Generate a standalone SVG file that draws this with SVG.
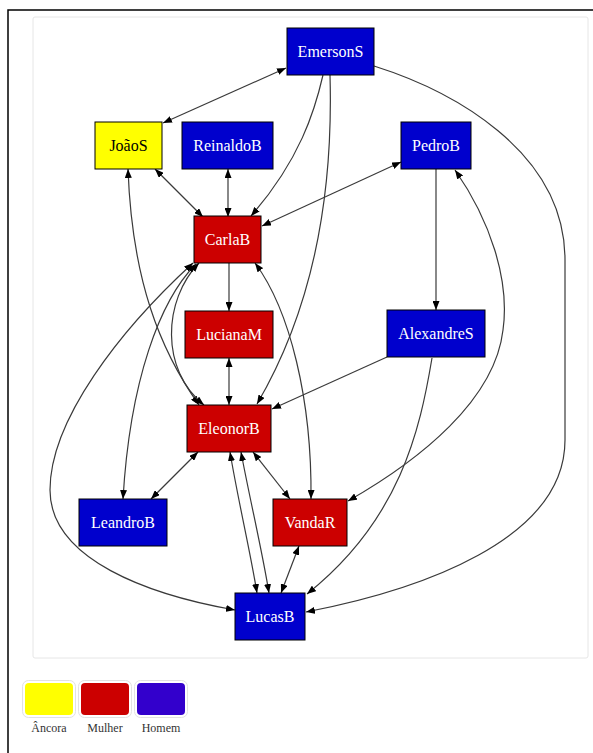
<svg xmlns="http://www.w3.org/2000/svg" width="593" height="753" viewBox="0 0 593 753">
  <style>
    .node rect { stroke: #000; stroke-width: 1; }
    .blue rect { fill: #0000CD; }
    .red rect { fill: #CC0000; }
    .yellow rect { fill: #FFFF00; }
    .node text { font-family: "Liberation Serif", "Times New Roman", serif; font-size: 16px; text-anchor: middle; fill: #fff; }
    .yellow text { fill: #000; }
    #edges path { fill: none; stroke: #3a3a3a; stroke-width: 1.2; }
    .one { marker-end: url(#arrow); }
    .both { marker-start: url(#arrow); marker-end: url(#arrow); }
    .legend text { font-family: "Liberation Serif", "Times New Roman", serif; font-size: 12px; text-anchor: middle; fill: #333; }
    .swatch { stroke: #e2e2e2; stroke-width: 1; fill: #fff; }
  </style>
  <defs>
    <marker id="arrow" markerUnits="userSpaceOnUse" markerWidth="9" markerHeight="7" refX="9" refY="3.5" orient="auto-start-reverse">
      <path d="M0,0 L9,3.5 L0,7 z" fill="#000"/>
    </marker>
  </defs>

  <!-- page frame -->
  <rect x="0" y="0" width="593" height="753" fill="#fff"/>
  <path d="M8,753 L8,10 L593,10" fill="none" stroke="#000" stroke-width="1.5"/>
  <rect x="33" y="17" width="555" height="641" rx="2" fill="#fff" stroke="#e6e6e6" stroke-width="1"/>

  <!-- connectors -->
  <g id="edges">
    <path class="both" d="M163,123 L286,68"/>
    <path class="one" d="M323,75 C315,110 300,160 251,216"/>
    <path class="one" d="M330,75 C333,180 318,300 257,404"/>
    <path class="one" d="M374,66 C450,90 565,150 565,260 L565,440 C565,540 420,590 306,612"/>
    <path class="both" d="M228,169 L228,217"/>
    <path class="both" d="M155,169 L203,217"/>
    <path class="both" d="M262,226 L401,162"/>
    <path class="one" d="M436,169 L436,310"/>
    <path class="one" d="M229,263 L229,311"/>
    <path class="both" d="M229,358 L229,405"/>
    <path class="one" d="M387,357 L272,409"/>
    <path class="one" d="M432,358 C420,430 400,520 307,594"/>
    <path class="both" d="M455,170 C490,220 510,280 503,330 C495,400 420,460 348,501"/>
    <path class="both" d="M128,169 C132,280 160,350 199,405"/>
    <path class="both" d="M199,263 C163,300 160,370 204,405"/>
    <path class="both" d="M196,264 C160,300 130,380 123,499"/>
    <path class="both" d="M193,263 C120,330 50,420 50,490 C50,560 150,595 235,610"/>
    <path class="both" d="M255,263 C290,310 312,400 311,499"/>
    <path class="both" d="M198,452 L151,499"/>
    <path class="both" d="M230,452 C238,500 250,550 257,593"/>
    <path class="both" d="M241,452 C250,500 262,550 269,593"/>
    <path class="both" d="M253,452 L290,499"/>
    <path class="both" d="M299,546 L281,593"/>
  </g>

  <!-- nodes -->
  <g id="EmersonS" class="node blue"><rect x="287" y="28" width="87" height="47"/><text x="330.5" y="57">EmersonS</text></g>
  <g id="JoaoS" class="node yellow"><rect x="95" y="122" width="67" height="47"/><text x="128.5" y="151">JoãoS</text></g>
  <g id="ReinaldoB" class="node blue"><rect x="182" y="122" width="91" height="47"/><text x="227.5" y="151">ReinaldoB</text></g>
  <g id="PedroB" class="node blue"><rect x="401" y="122" width="70" height="47"/><text x="436" y="151">PedroB</text></g>
  <g id="CarlaB" class="node red"><rect x="194" y="216" width="67" height="47"/><text x="227.5" y="245">CarlaB</text></g>
  <g id="LucianaM" class="node red"><rect x="185" y="311" width="88" height="47"/><text x="229" y="340">LucianaM</text></g>
  <g id="AlexandreS" class="node blue"><rect x="387" y="310" width="98" height="47"/><text x="436" y="339">AlexandreS</text></g>
  <g id="EleonorB" class="node red"><rect x="187" y="405" width="84" height="47"/><text x="229" y="434">EleonorB</text></g>
  <g id="LeandroB" class="node blue"><rect x="79" y="499" width="88" height="47"/><text x="123" y="528">LeandroB</text></g>
  <g id="VandaR" class="node red"><rect x="273" y="499" width="74" height="47"/><text x="310" y="528">VandaR</text></g>
  <g id="LucasB" class="node blue"><rect x="235" y="593" width="70" height="47"/><text x="270" y="622">LucasB</text></g>

  <!-- legend -->
  <g id="legend" class="legend">
    <rect class="swatch" x="22.5" y="680.5" width="53" height="37" rx="6"/>
    <rect x="25" y="683" width="48" height="32" rx="4" fill="#FFFF00"/>
    <text x="49" y="732">Âncora</text>
    <rect class="swatch" x="78.5" y="680.5" width="53" height="37" rx="6"/>
    <rect x="81" y="683" width="48" height="32" rx="4" fill="#CC0000"/>
    <text x="105" y="732">Mulher</text>
    <rect class="swatch" x="134.5" y="680.5" width="53" height="37" rx="6"/>
    <rect x="137" y="683" width="48" height="32" rx="4" fill="#3300CC"/>
    <text x="161" y="732">Homem</text>
  </g>
</svg>
